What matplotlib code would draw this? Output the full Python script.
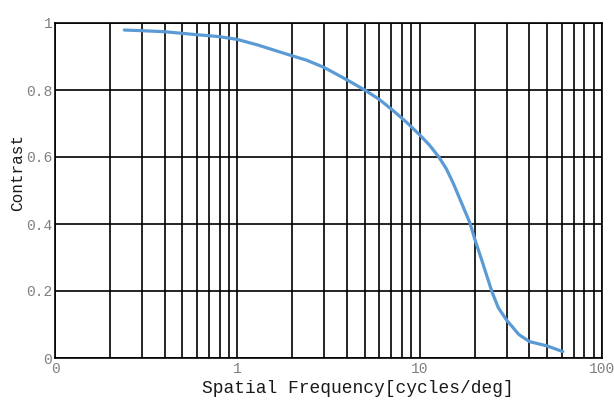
import matplotlib
matplotlib.use("Agg")
import matplotlib.pyplot as plt
from matplotlib.ticker import FixedLocator, FixedFormatter, NullFormatter

freq = [0.24, 0.3, 0.4, 0.5, 0.6, 0.7, 0.8, 1.0, 1.3, 1.7, 2.0, 2.4, 3.0, 4.0, 5.0,
        6.0, 7.1, 8.5, 10, 11.3, 12.7, 14, 15.3, 17.3, 18.9, 20, 22, 24.9, 27, 30,
        35, 40, 50, 61]
contrast = [0.979, 0.977, 0.974, 0.969, 0.965, 0.962, 0.959, 0.951, 0.934, 0.914, 0.902,
            0.889, 0.867, 0.830, 0.800, 0.772, 0.740, 0.703, 0.666, 0.636, 0.601, 0.565,
            0.521, 0.452, 0.402, 0.357, 0.289, 0.198, 0.150, 0.113, 0.070, 0.049, 0.036,
            0.019]

xticks = [0.1, 1, 10, 100]
xticklabels = ["0", "1", "10", "100"]
yticks = [0, 0.2, 0.4, 0.6, 0.8, 1.0]
yticklabels = ["0", "0.2", "0.4", "0.6", "0.8", "1"]

font = "Liberation Mono"

fig = plt.figure(figsize=(6.14, 4.01), dpi=100)
ax = fig.add_axes([55/614, 1-358/401, (602-55)/614, (358-23)/401])
ax.set_xscale("log")
ax.set_xlim(0.1, 100)
ax.set_ylim(0, 1)

minor = [m * 10**e for e in (-1, 0, 1) for m in range(2, 10)]
ax.xaxis.set_major_locator(FixedLocator(xticks))
ax.xaxis.set_major_formatter(FixedFormatter(xticklabels))
ax.xaxis.set_minor_locator(FixedLocator(minor))
ax.xaxis.set_minor_formatter(NullFormatter())
ax.set_yticks(yticks)
ax.set_yticklabels(yticklabels)

ax.grid(True, which="both", axis="x", color="black", linewidth=1.2)
ax.grid(True, which="major", axis="y", color="black", linewidth=1.2)
for s in ax.spines.values():
    s.set_color("black")
    s.set_linewidth(1.2)
ax.tick_params(which="both", length=0)
ax.tick_params(axis="x", pad=3)
ax.tick_params(axis="y", pad=2)
for lab in ax.get_xticklabels() + ax.get_yticklabels():
    lab.set_fontfamily(font)
    lab.set_fontsize(10.5)
    lab.set_color("#808080")

ax.plot(freq, contrast, color="#5B9BD5", linewidth=2.3, solid_capstyle="round", zorder=5)

ax.set_xlabel("Spatial Frequency[cycles/deg]", fontfamily=font, fontsize=12.9,
              color="#1a1a1a", va="center")
ax.xaxis.set_label_coords(0.553, -0.0925)
ax.set_ylabel("Contrast", fontfamily=font, fontsize=11.5, color="#1a1a1a", va="center")
ax.yaxis.set_label_coords((18 - 55) / 547, 0.554)

fig.savefig("out.png", dpi=100, facecolor="white")
